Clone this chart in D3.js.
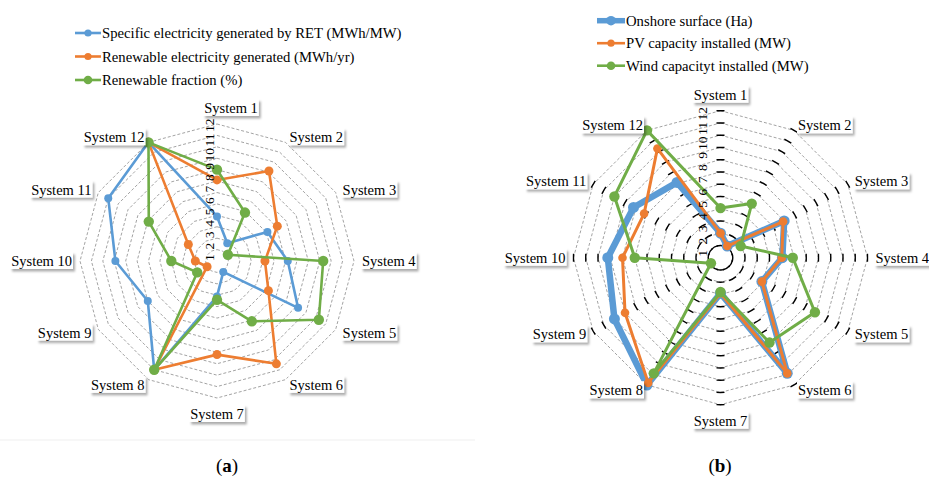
<!DOCTYPE html>
<html>
<head>
<meta charset="utf-8">
<script src="https://cdn.jsdelivr.net/npm/d3@7"></script>
<style>
  body { margin: 0; background: #fff; }
  svg text { font-family: "Liberation Serif", "Times New Roman", serif; fill: #000; }
</style>
</head>
<body>
<svg id="chart" width="929" height="482"></svg>
<script>
// categories (spokes)
const systems = ["System 1", "System 2", "System 3", "System 4", "System 5", "System 6",
                 "System 7", "System 8", "System 9", "System 10", "System 11", "System 12"];
const ringValues = [1, 2, 3, 4, 5, 6, 7, 8, 9, 10, 11, 12];

// panel (a)
const specificRet   = [3.9, 1.8, 5.1, 6.2, 8.2, 1.1, 3.1, 11.0, 7.0, 8.9, 11.0, 12.0];
const renewableGen  = [7.1, 9.1, 6.1, 4.2, 5.2, 10.4, 8.2, 11.0, 1.0, 1.9, 2.9, 12.0];
const renewableFrac = [8.0, 4.9, 1.1, 9.3, 10.3, 6.1, 3.4, 11.0, 2.0, 4.0, 6.9, 12.0];

// panel (b)
const onshoreSurface = [2.0, 1.1, 6.0, 5.05, 3.9, 10.9, 2.9, 12.0, 10.0, 9.2, 8.2, 7.1];
const pvCapacity     = [2.0, 1.1, 5.9, 5.0, 3.9, 10.9, 2.9, 11.8, 9.0, 8.0, 7.2, 10.3];
const windCapacity   = [4.05, 5.1, 1.9, 5.9, 8.9, 8.0, 2.8, 10.9, 0.9, 7.0, 10.0, 12.0];

const blue = "#5b9bd5", orange = "#ed7d31", green = "#70ad47";

const svg = d3.select("#chart");

svg.append("defs").append("filter")
    .attr("id", "shadow")
    .attr("x", "-20%").attr("y", "-30%")
    .attr("width", "150%").attr("height", "180%")
  .append("feDropShadow")
    .attr("dx", 2).attr("dy", 2.5)
    .attr("stdDeviation", 1.3)
    .attr("flood-color", "#000")
    .attr("flood-opacity", 0.32);

const angle = d3.scaleLinear().domain([0, systems.length]).range([0, 2 * Math.PI]);

function drawRadar(opt) {
    const g = svg.append("g").attr("transform", "translate(" + opt.cx + "," + opt.cy + ")");
    const r = d3.scaleLinear().domain([0, 12]).range([0, opt.radius]);

    // grey dashed rings
    const ring = d3.lineRadial()
        .angle((d, i) => angle(i))
        .radius(d => r(d))
        .curve(d3.curveLinearClosed);

    g.selectAll("path.ring")
        .data(ringValues)
        .enter()
        .append("path")
        .attr("class", "ring")
        .attr("d", v => ring(systems.map(() => v)))
        .attr("fill", "none")
        .attr("stroke", "#8c8c8c")
        .attr("stroke-width", 0.8)
        .attr("stroke-dasharray", "3,2");

    // black tick arcs on every spoke (panel b)
    if (opt.ticks) {
        ringValues.forEach(v => {
            const rr = r(v), half = 4 / rr;
            systems.forEach((s, i) => {
                const a = angle(i) - Math.PI / 2;
                const p = d3.path();
                p.arc(0, 0, rr, a - half, a + half);
                g.append("path")
                    .attr("d", p.toString())
                    .attr("fill", "none")
                    .attr("stroke", "#000")
                    .attr("stroke-width", 1.4);
            });
        });
    }

    // series
    opt.series.forEach(s => {
        const line = d3.lineRadial()
            .angle((d, i) => angle(i))
            .radius(d => r(d))
            .curve(d3.curveLinearClosed);
        g.append("path")
            .datum(s.values)
            .attr("d", line)
            .attr("fill", "none")
            .attr("stroke", s.color)
            .attr("stroke-width", s.width)
            .attr("stroke-linejoin", "round");
        g.selectAll(null)
            .data(s.values)
            .enter()
            .append("circle")
            .attr("cx", (d, i) => r(d) * Math.sin(angle(i)))
            .attr("cy", (d, i) => -r(d) * Math.cos(angle(i)))
            .attr("r", s.dot)
            .attr("fill", s.color);
    });

    // value axis labels, rotated, along System 1 spoke
    const axisLabels = g.selectAll("text.axis")
        .data(ringValues)
        .enter()
        .append("text")
        .attr("class", "axis")
        .attr("text-anchor", "middle")
        .attr("dy", "0.35em")
        .style("font-size", "13.5px")
        .text(d => d);
    let prevEnd = -Infinity;
    axisLabels.each(function(v) {
        const w = this.getComputedTextLength();
        let pos = r(v) - 8;
        if (pos - w / 2 < prevEnd + 1.5) pos = prevEnd + 1.5 + w / 2;
        prevEnd = pos + w / 2;
        d3.select(this).attr("transform", "translate(" + opt.axisX + "," + (-pos) + ") rotate(-90)");
    });

    // category labels with shadowed boxes
    systems.forEach((name, i) => {
        const a = angle(i);
        let s = Math.sin(a), c = Math.cos(a);
        if (Math.abs(s) < 1e-6) s = 0;
        if (Math.abs(c) < 1e-6) c = 0;
        const lg = g.append("g");
        const box = lg.append("rect").attr("fill", "#fff").attr("filter", "url(#shadow)");
        const t = lg.append("text")
            .attr("text-anchor", "middle")
            .attr("dy", "0.35em")
            .style("font-size", "14.5px")
            .text(name);
        const w = t.node().getComputedTextLength();
        let x = s * (opt.radius + 8) + Math.sign(s) * w / 2;
        let y = -c * (opt.radius + 6);
        if (s === 0) y -= c * 10;
        if (i === 0) x += opt.topNudge;
        t.attr("x", x).attr("y", y);
        box.attr("x", x - w / 2 - 1).attr("y", y - 9)
           .attr("width", w + 2).attr("height", 17);
    });
}

function drawLegend(opt) {
    const g = svg.append("g");
    opt.items.forEach((it, i) => {
        const y = opt.y + i * opt.step;
        g.append("line")
            .attr("x1", opt.x).attr("x2", opt.x + opt.len)
            .attr("y1", y).attr("y2", y)
            .attr("stroke", it.color)
            .attr("stroke-width", it.width);
        g.append("circle")
            .attr("cx", opt.x + opt.len / 2).attr("cy", y)
            .attr("r", it.dot)
            .attr("fill", it.color);
        g.append("text")
            .attr("x", opt.x + opt.len + 1).attr("y", y)
            .attr("dy", "0.35em")
            .style("font-size", "14.7px")
            .text(it.label);
    });
}

// faint border under panel (a)
svg.append("line")
    .attr("x1", 0).attr("x2", 475)
    .attr("y1", 440).attr("y2", 440)
    .attr("stroke", "#efefef");

drawRadar({
    cx: 217, cy: 261, radius: 137, ticks: false, axisX: -8, topNudge: 14,
    series: [
        { values: specificRet,   color: blue,   width: 2.6, dot: 4 },
        { values: renewableGen,  color: orange, width: 2.6, dot: 4.5 },
        { values: renewableFrac, color: green,  width: 2.6, dot: 5.2 }
    ]
});

drawRadar({
    cx: 720.5, cy: 257.7, radius: 147, ticks: true, axisX: -18, topNudge: 0,
    series: [
        { values: onshoreSurface, color: blue,   width: 6.5, dot: 5.5 },
        { values: pvCapacity,     color: orange, width: 3,   dot: 4.3 },
        { values: windCapacity,   color: green,  width: 3,   dot: 5.2 }
    ]
});

drawLegend({
    x: 75, y: 33, step: 23.5, len: 26,
    items: [
        { label: "Specific electricity generated by RET (MWh/MW)", color: blue,   width: 2.6, dot: 3.6 },
        { label: "Renewable electricity generated (MWh/yr)",      color: orange, width: 2.6, dot: 3.6 },
        { label: "Renewable fraction (%)",                         color: green,  width: 2.6, dot: 4.3 }
    ]
});

drawLegend({
    x: 597, y: 20.7, step: 22.5, len: 28,
    items: [
        { label: "Onshore surface (Ha)",         color: blue,   width: 5.5, dot: 4.8 },
        { label: "PV capacity installed (MW)",   color: orange, width: 2.6, dot: 3.6 },
        { label: "Wind capacityt installed (MW)", color: green,  width: 2.6, dot: 4.3 }
    ]
});

// panel captions
[{ x: 227, letter: "a" }, { x: 720, letter: "b" }].forEach(c => {
    const t = svg.append("text")
        .attr("x", c.x).attr("y", 472)
        .attr("text-anchor", "middle")
        .style("font-size", "19px");
    t.append("tspan").text("(");
    t.append("tspan").style("font-weight", "bold").text(c.letter);
    t.append("tspan").text(")");
});
</script>
</body>
</html>
